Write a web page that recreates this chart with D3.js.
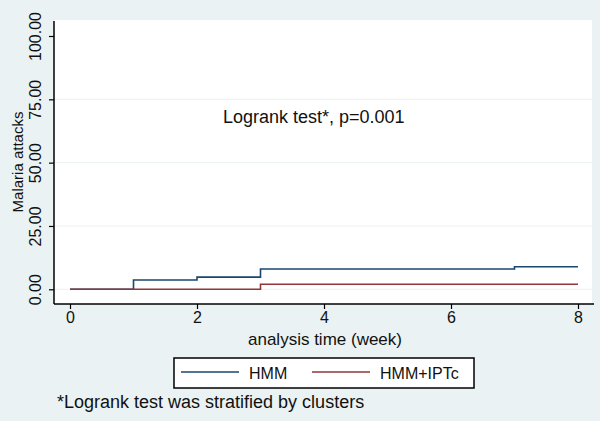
<!DOCTYPE html>
<html>
<head>
<meta charset="utf-8">
<script src="https://cdn.jsdelivr.net/npm/d3@7"></script>
<style>
  body { margin: 0; background: #eaf2f3; }
  svg { display: block; font-family: "Liberation Sans", Arial, sans-serif; }
</style>
</head>
<body>
<svg id="chart"></svg>
<script>
// step data
const hmmTimes = [0, 1, 2, 3, 7, 8];
const hmmValues = [0, 3.7, 4.8, 8.0, 8.9, 8.9];
const iptcTimes = [0, 3, 8];
const iptcValues = [0, 2.0, 2.0];
const xTicks = [0, 2, 4, 6, 8];
const yTicks = [0, 25, 50, 75, 100];
const seriesNames = ['HMM', 'HMM+IPTc'];
const seriesColors = ['#1a476f', '#90353b'];

const width = 600, height = 421;
const svg = d3.select('#chart')
  .attr('width', width)
  .attr('height', height)
  .style('background-color', '#eaf2f3');

// plot region
const plot = { left: 54, right: 592, top: 20, bottom: 304 };

const x = d3.scaleLinear().domain([0, 8]).range([70, 578]);
const y = d3.scaleLinear().domain([0, 100]).range([289.3, 36]);

svg.append('rect')
  .attr('x', plot.left)
  .attr('y', plot.top)
  .attr('width', plot.right - plot.left)
  .attr('height', plot.bottom - plot.top)
  .attr('fill', 'white');

// gridlines (not at top tick)
svg.append('g')
  .selectAll('line')
  .data(yTicks.filter(d => d < 100))
  .enter()
  .append('line')
  .attr('x1', plot.left)
  .attr('x2', plot.right)
  .attr('y1', d => y(d))
  .attr('y2', d => y(d))
  .attr('stroke', '#eaf2f3')
  .attr('stroke-width', 1);

// axes
const yAxis = d3.axisLeft(y).tickValues(yTicks).tickSize(5).tickFormat(d3.format('.2f'));
const xAxis = d3.axisBottom(x).tickValues(xTicks).tickSize(5).tickFormat(d3.format('d'));

const gy = svg.append('g')
  .attr('transform', `translate(${plot.left},0)`)
  .call(yAxis);
gy.select('.domain').remove();
gy.selectAll('.tick line').attr('stroke', '#000').attr('stroke-width', 1.2);
gy.selectAll('.tick text')
  .attr('font-size', '16px')
  .attr('font-family', '"Liberation Sans", Arial, sans-serif')
  .attr('fill', '#111')
  .attr('transform', 'rotate(-90)')
  .attr('text-anchor', 'middle')
  .attr('x', 0)
  .attr('y', -13)
  .attr('dy', 0);

const gx = svg.append('g')
  .attr('transform', `translate(0,${plot.bottom})`)
  .call(xAxis);
gx.select('.domain').remove();
gx.selectAll('.tick line').attr('stroke', '#000').attr('stroke-width', 1.2);
gx.selectAll('.tick text')
  .attr('font-size', '16px')
  .attr('font-family', '"Liberation Sans", Arial, sans-serif')
  .attr('fill', '#111')
  .attr('y', 8);

// axis lines
svg.append('line')
  .attr('x1', plot.left).attr('x2', plot.left)
  .attr('y1', 21).attr('y2', plot.bottom)
  .attr('stroke', '#000').attr('stroke-width', 1.5);
svg.append('line')
  .attr('x1', plot.left).attr('x2', 594)
  .attr('y1', plot.bottom).attr('y2', plot.bottom)
  .attr('stroke', '#000').attr('stroke-width', 1.5);

// step lines
const step = d3.line()
  .x(d => x(d[0]))
  .y(d => y(d[1]))
  .curve(d3.curveStepAfter);

const series = [
  d3.zip(hmmTimes, hmmValues),
  d3.zip(iptcTimes, iptcValues)
];

svg.append('g')
  .selectAll('path')
  .data(series)
  .enter()
  .append('path')
  .attr('d', step)
  .attr('fill', 'none')
  .attr('stroke', (d, i) => seriesColors[i])
  .attr('stroke-width', 1.6);

// axis titles
svg.append('text')
  .attr('x', 325)
  .attr('y', 345)
  .attr('text-anchor', 'middle')
  .attr('font-size', '17px')
  .attr('fill', '#111')
  .text('analysis time (week)');

svg.append('text')
  .attr('transform', 'translate(23,162) rotate(-90)')
  .attr('text-anchor', 'middle')
  .attr('font-size', '15px')
  .attr('fill', '#111')
  .text('Malaria attacks');

// annotation
svg.append('text')
  .attr('x', 223)
  .attr('y', 123)
  .attr('font-size', '18px')
  .attr('fill', '#111')
  .text('Logrank test*, p=0.001');

// legend
const legend = svg.append('g');
legend.append('rect')
  .attr('x', 174)
  .attr('y', 358)
  .attr('width', 300)
  .attr('height', 30)
  .attr('fill', 'white')
  .attr('stroke', '#000')
  .attr('stroke-width', 1.5);

const legendX = [181, 312];
seriesNames.forEach((name, i) => {
  legend.append('line')
    .attr('x1', legendX[i]).attr('x2', legendX[i] + 58)
    .attr('y1', 372).attr('y2', 372)
    .attr('stroke', seriesColors[i])
    .attr('stroke-width', 1.6);
  legend.append('text')
    .attr('x', legendX[i] + 68)
    .attr('y', 379)
    .attr('font-size', '16px')
    .attr('fill', '#111')
    .text(name);
});

// footnote
svg.append('text')
  .attr('x', 57)
  .attr('y', 408)
  .attr('font-size', '18px')
  .attr('fill', '#111')
  .text('*Logrank test was stratified by clusters');
</script>
</body>
</html>
